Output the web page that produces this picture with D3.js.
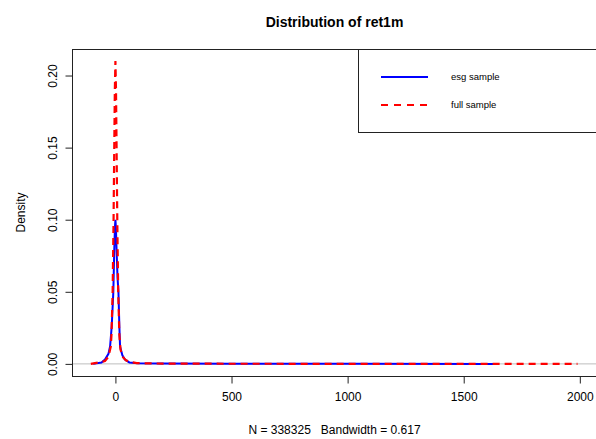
<!DOCTYPE html>
<html>
<head>
<meta charset="utf-8">
<script src="https://cdn.jsdelivr.net/npm/d3@7"></script>
<style>
  body { margin: 0; background: #fff; }
  text { font-family: "Liberation Sans", Arial, Helvetica, sans-serif; fill: #000; }
</style>
</head>
<body>
<div id="chart"></div>
<script>
'use strict';

// density estimates
var esgX = [-96, -60, -45, -30, -23, -16, -9, -5, -2, 0, 2, 5, 9, 13, 17, 20, 30, 41, 60, 97, 200, 500, 1000, 1630];
var esgY = [0, 0.001, 0.003, 0.007, 0.012, 0.026, 0.05, 0.079, 0.095, 0.1, 0.095, 0.079, 0.06, 0.05, 0.026, 0.012, 0.006, 0.003, 0.001, 0.0004, 0.0002, 0.0001, 0.00005, 0];

var fullX = [-106, -70, -45, -30, -20, -17, -12, -8, -5, -2.5, 0, 2.5, 5, 8, 12, 17, 22, 30, 45, 60, 92, 200, 500, 1000, 1500, 1990];
var fullY = [0, 0.001, 0.002, 0.005, 0.012, 0.02, 0.05, 0.1, 0.15, 0.19, 0.21, 0.19, 0.15, 0.1, 0.05, 0.02, 0.01, 0.005, 0.0025, 0.0015, 0.0005, 0.0002, 0.0001, 0.00005, 0.00003, 0];

var xTicks = [0, 500, 1000, 1500, 2000];
var yTicks = [0, 0.05, 0.10, 0.15, 0.20];
var legendLabels = ["esg sample", "full sample"];

var width = 596, height = 439;
var pLeft = 72, pRight = 597, pTop = 49, pBottom = 376;

var svg = d3.select("#chart").append("svg")
  .attr("width", width)
  .attr("height", height);

var x = d3.scaleLinear().domain([-187, 2074]).range([pLeft, pRight]);
var y = d3.scaleLinear().domain([-0.0084, 0.2184]).range([pBottom, pTop]);

svg.append("clipPath").attr("id", "plotclip")
  .append("rect")
  .attr("x", pLeft).attr("y", pTop)
  .attr("width", pRight - pLeft).attr("height", pBottom - pTop);

// zero line
svg.append("line")
  .attr("x1", pLeft).attr("x2", pRight)
  .attr("y1", y(0)).attr("y2", y(0))
  .attr("stroke", "#bebebe").attr("stroke-width", 1);

var line = d3.line()
  .x(function(d) { return x(d[0]); })
  .y(function(d) { return y(d[1]); });

var g = svg.append("g").attr("clip-path", "url(#plotclip)");

g.append("path")
  .datum(d3.zip(esgX, esgY))
  .attr("d", line)
  .attr("fill", "none")
  .attr("stroke", "#0000ff")
  .attr("stroke-width", 2);

g.append("path")
  .datum(d3.zip(fullX, fullY))
  .attr("d", line)
  .attr("fill", "none")
  .attr("stroke", "#ff0000")
  .attr("stroke-width", 2.2)
  .attr("stroke-dasharray", "7,5");

// box
svg.append("rect")
  .attr("x", pLeft + 0.5).attr("y", pTop + 0.5)
  .attr("width", pRight - pLeft).attr("height", pBottom - pTop)
  .attr("fill", "none").attr("stroke", "#222").attr("stroke-width", 1);

// x axis
var xAxis = d3.axisBottom(x).tickValues(xTicks).tickSize(7).tickPadding(9)
  .tickFormat(d3.format("d"));
var gx = svg.append("g").attr("transform", "translate(0," + (pBottom + 0.5) + ")").call(xAxis);
gx.select(".domain").attr("d", "M" + x(0) + ",0H" + x(2000)).attr("stroke", "#222");
gx.selectAll(".tick line").attr("stroke", "#222");
gx.selectAll("text").style("font-size", "12px").attr("fill", "#000")
  .style("font-family", "Liberation Sans, Arial, sans-serif");

// y axis
var yAxis = d3.axisLeft(y).tickValues(yTicks).tickSize(7).tickFormat(d3.format(".2f"));
var gy = svg.append("g").attr("transform", "translate(" + (pLeft + 0.5) + ",0)").call(yAxis);
gy.select(".domain").attr("d", "M0," + y(0) + "V" + y(0.2)).attr("stroke", "#222");
gy.selectAll(".tick line").attr("stroke", "#222");
gy.selectAll("text")
  .attr("x", null).attr("dy", null)
  .attr("text-anchor", "middle")
  .attr("transform", "translate(-20,0) rotate(-90)")
  .attr("y", 0)
  .attr("dy", "0.35em")
  .style("font-size", "12px").attr("fill", "#000")
  .style("font-family", "Liberation Sans, Arial, sans-serif");

// title and labels
svg.append("text")
  .attr("x", (pLeft + pRight) / 2).attr("y", 27)
  .attr("text-anchor", "middle")
  .style("font-size", "14px").style("font-weight", "bold")
  .text("Distribution of ret1m");

svg.append("text")
  .attr("x", (pLeft + pRight) / 2).attr("y", 434)
  .attr("text-anchor", "middle")
  .style("font-size", "12px")
  .style("white-space", "pre")
  .attr("xml:space", "preserve")
  .text("N = 338325   Bandwidth = 0.617");

svg.append("text")
  .attr("transform", "translate(25," + ((pTop + pBottom) / 2) + ") rotate(-90)")
  .attr("text-anchor", "middle")
  .style("font-size", "12px")
  .text("Density");

// legend
var leg = svg.append("g");
leg.append("rect")
  .attr("x", 358.5).attr("y", pTop + 0.5)
  .attr("width", 260).attr("height", 132 - pTop)
  .attr("fill", "#fff").attr("stroke", "#222");

var legColors = ["#0000ff", "#ff0000"];
var legDash = [null, "7,6"];
legendLabels.forEach(function(lab, i) {
  var ly = 77 + i * 28;
  leg.append("line")
    .attr("x1", 381).attr("x2", 428)
    .attr("y1", ly).attr("y2", ly)
    .attr("stroke", legColors[i]).attr("stroke-width", 2)
    .attr("stroke-dasharray", legDash[i]);
  leg.append("text")
    .attr("x", 451).attr("y", ly).attr("dy", "0.35em")
    .style("font-size", "9.5px")
    .text(lab);
});
</script>
</body>
</html>
